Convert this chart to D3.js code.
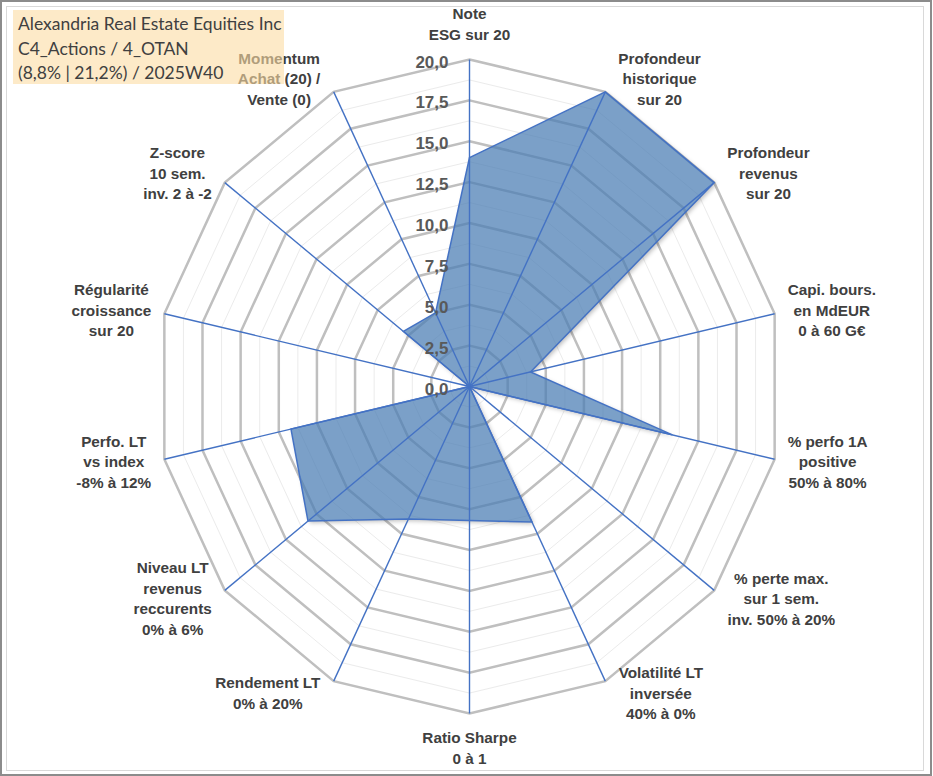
<!DOCTYPE html>
<html>
<head>
<meta charset="utf-8">
<script src="https://cdn.jsdelivr.net/npm/d3@7"></script>
<style>
  body { margin: 0; background: #fff; }
  svg { display: block; }
</style>
</head>
<body>
<div id="chart-container"></div>
<script>
const categories = [
    ["Note", "ESG sur 20"],
    ["Profondeur", "historique", "sur 20"],
    ["Profondeur", "revenus", "sur 20"],
    ["Capi. bours.", "en MdEUR", "0 à 60 G€"],
    ["% perfo 1A", "positive", "50% à 80%"],
    ["% perte max.", "sur 1 sem.", "inv. 50% à 20%"],
    ["Volatilité LT", "inversée", "40% à 0%"],
    ["Ratio Sharpe", "0 à 1"],
    ["Rendement LT", "0% à 20%"],
    ["Niveau LT", "revenus", "reccurents", "0% à 6%"],
    ["Perfo. LT", "vs index", "-8% à 12%"],
    ["Régularité", "croissance", "sur 20"],
    ["Z-score", "10 sem.", "inv. 2 à -2"],
    ["Momentum", "Achat (20) /", "Vente (0)"]
];
const scores = [14, 20, 20, 4, 13.3, 0, 9.2, 8.2, 9, 13.2, 11.7, 0, 5.4, 5];
const majorTicks = [0, 2.5, 5, 7.5, 10, 12.5, 15, 17.5, 20];
const minorTicks = [1.25, 3.75, 6.25, 8.75, 11.25, 13.75, 16.25, 18.75];
const titleLines = [
    "Alexandria Real Estate Equities Inc",
    "C4_Actions / 4_OTAN",
    "(8,8% | 21,2%) / 2025W40"
];

const width = 933;
const height = 776;
const cx = 469.5;
const cy = 386.5;
const radiusX = 313;
const radiusY = 327;

const r = d3.scaleLinear().domain([0, 20]).range([0, 1]);
const angle = d3.scaleLinear().domain([0, categories.length]).range([0, 2 * Math.PI]);
const fmt = d => d3.format(".1f")(d).replace(".", ",");

const px = (i, v) => cx + r(v) * radiusX * Math.sin(angle(i));
const py = (i, v) => cy - r(v) * radiusY * Math.cos(angle(i));

const svg = d3.select("#chart-container").append("svg")
    .attr("width", width)
    .attr("height", height);

const areaPath = d3.line().curve(d3.curveLinearClosed)(scores.map((v, i) => [px(i, v), py(i, v)]));

// soft shadow outside the area only
const defs = svg.append("defs");
defs.append("filter")
    .attr("id", "blur")
    .attr("x", "-10%").attr("y", "-10%").attr("width", "120%").attr("height", "120%")
    .append("feGaussianBlur")
    .attr("stdDeviation", 2);
const mask = defs.append("mask").attr("id", "outside");
mask.append("rect").attr("width", width).attr("height", height).attr("fill", "#fff");
mask.append("path").attr("d", areaPath).attr("fill", "#000");

// frame
svg.append("rect")
    .attr("x", 1).attr("y", 1).attr("width", 930).attr("height", 774)
    .attr("fill", "#fff").attr("stroke", "#8c8c8c").attr("stroke-width", 2);
svg.append("rect")
    .attr("x", 6.5).attr("y", 6.5).attr("width", 917).attr("height", 764)
    .attr("fill", "none").attr("stroke", "#d9d9d9").attr("stroke-width", 1);

const ring = v => d3.line().curve(d3.curveLinearClosed)(categories.map((c, i) => [px(i, v), py(i, v)]));

// grid rings
svg.append("g")
    .selectAll("path")
    .data(minorTicks)
    .join("path")
    .attr("d", ring)
    .attr("fill", "none")
    .attr("stroke", "#ebebeb")
    .attr("stroke-width", 1);

svg.append("g")
    .selectAll("path")
    .data(majorTicks.filter(d => d > 0))
    .join("path")
    .attr("d", ring)
    .attr("fill", "none")
    .attr("stroke", "#bfbfbf")
    .attr("stroke-width", 2.5);

// series area
svg.append("g")
    .attr("mask", "url(#outside)")
    .append("path")
    .attr("d", areaPath)
    .attr("transform", "translate(2,2)")
    .attr("fill", "#000")
    .attr("fill-opacity", 0.25)
    .attr("filter", "url(#blur)");

svg.append("path")
    .attr("d", areaPath)
    .attr("fill", "#4a7db4")
    .attr("fill-opacity", 0.73)
    .attr("stroke", "#4472c4")
    .attr("stroke-width", 1.5);

// spokes
svg.append("g")
    .selectAll("line")
    .data(categories)
    .join("line")
    .attr("x1", cx).attr("y1", cy)
    .attr("x2", (d, i) => px(i, 20))
    .attr("y2", (d, i) => py(i, 20))
    .attr("stroke", "#4472c4")
    .attr("stroke-width", 1.4);

// value ticks on the top axis
svg.append("g")
    .selectAll("text")
    .data(majorTicks)
    .join("text")
    .attr("x", cx - 21)
    .attr("y", d => py(0, d) + 2)
    .attr("dy", "0.36em")
    .attr("text-anchor", "end")
    .attr("font-family", "Liberation Sans, Arial, sans-serif")
    .attr("font-weight", "bold")
    .attr("font-size", 17)
    .attr("fill", "#595959")
    .text(fmt);

// category labels
const lineH = 20.5;
const labels = svg.append("g")
    .attr("font-family", "Liberation Sans, Arial, sans-serif")
    .attr("font-weight", "bold")
    .attr("font-size", 15.3)
    .attr("fill", "#404040")
    .attr("text-anchor", "middle");

categories.forEach((lines, i) => {
    const t = labels.append("text");
    lines.forEach((l, k) => t.append("tspan").attr("x", 0).attr("y", k * lineH).text(l));
    const w = t.node().getBBox().width;
    const h = lines.length * lineH;
    const s = Math.sin(angle(i));
    const c = Math.cos(angle(i));
    let x, y;
    if (Math.abs(s) < 0.01) {
        x = px(i, 20);
        y = py(i, 20) - Math.sign(c) * (h / 2 + 14.5);
    } else {
        x = px(i, 20) + Math.sign(s) * (w / 2 + 13);
        y = cy - c * 341;
    }
    // first baseline sits about 5px below the centre of the first line
    t.attr("transform", `translate(${x},${y - h / 2 + lineH / 2 + 5})`);
});

// title box
svg.append("rect")
    .attr("x", 13).attr("y", 10).attr("width", 271).attr("height", 74)
    .attr("fill", "#fcdca4").attr("fill-opacity", 0.6);

svg.append("g")
    .selectAll("text")
    .data(titleLines)
    .join("text")
    .attr("x", 18)
    .attr("y", (d, i) => 30 + i * 24.5)
    .attr("font-family", "Lato, Carlito, sans-serif")
    .attr("font-size", 17.5)
    .attr("fill", "#404040")
    .text(d => d);
</script>
</body>
</html>
